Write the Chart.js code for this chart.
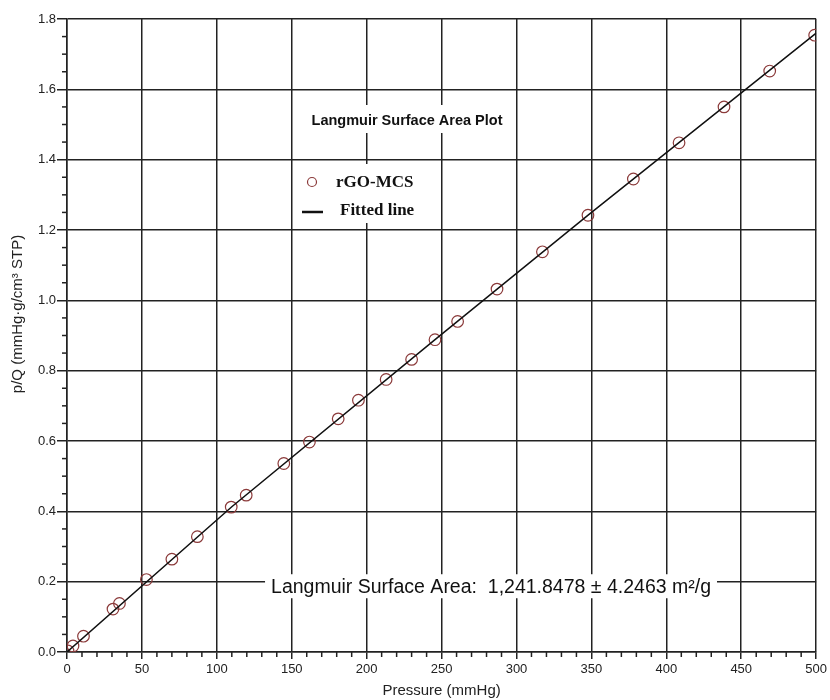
<!DOCTYPE html>
<html>
<head>
<meta charset="utf-8">
<script src="https://cdn.jsdelivr.net/npm/chart.js@4/dist/chart.umd.min.js"></script>
<style>
  html, body { margin: 0; padding: 0; background: #fff; }
  #wrap { width: 830px; height: 700px; }
</style>
</head>
<body>
<div id="wrap"><canvas id="chart"></canvas></div>
<script>
/*===== DATA =====*/

let pressure = [0.7, 4, 11, 30.7, 35, 53, 70, 87, 109.6, 119.6, 144.7, 161.8, 181, 194.5, 213, 230, 245.6, 260.7, 287, 317.3, 347.7, 378, 408.5, 438.5, 469, 499];
let pOverQ = [0.003, 0.017, 0.045, 0.122, 0.138, 0.206, 0.264, 0.328, 0.412, 0.446, 0.536, 0.597, 0.663, 0.716, 0.775, 0.832, 0.888, 0.94, 1.032, 1.138, 1.242, 1.345, 1.448, 1.55, 1.652, 1.754];
let fitX = [0, 110, 245, 348, 500];
let fitY = [0.0, 0.413, 0.886, 1.243, 1.76];
let xTicks = [0, 50, 100, 150, 200, 250, 300, 350, 400, 450, 500];
let yTicks = [0.0, 0.2, 0.4, 0.6, 0.8, 1.0, 1.2, 1.4, 1.6, 1.8];
let seriesName = "rGO-MCS";
let fitName = "Fitted line";
let plotTitle = "Langmuir Surface Area Plot";
let resultText = "Langmuir Surface Area:  1,241.8478 \u00b1 4.2463 m\u00b2/g";
let yTitle = "p/Q (mmHg\u00b7g/cm\u00b3 STP)";
let xTitle = "Pressure (mmHg)";

const SANS = "'Liberation Sans', Arial, sans-serif";
const SERIF = "'Liberation Serif', 'Times New Roman', serif";

/*===== PLUGIN =====*/

var extras = {
    id: "extras",
    beforeDatasetsDraw: function(chart) {
        var ctx = chart.ctx;
        var xs = chart.scales.x;
        var ys = chart.scales.y;
        var area = chart.chartArea;
        ctx.save();

        // minor ticks
        ctx.strokeStyle = "#222";
        ctx.lineWidth = 1.5;
        for (var v = 0; v <= 500; v += 10) {
            if (v % 50 === 0) continue;
            var px = xs.getPixelForValue(v);
            ctx.beginPath();
            ctx.moveTo(px, area.bottom);
            ctx.lineTo(px, area.bottom + 5);
            ctx.stroke();
        }
        for (var i = 0; i <= 36; i++) {
            if (i % 4 === 0) continue;
            var py = ys.getPixelForValue(i * 0.05);
            ctx.beginPath();
            ctx.moveTo(area.left - 5, py);
            ctx.lineTo(area.left, py);
            ctx.stroke();
        }

        // title box
        ctx.fillStyle = "#fff";
        ctx.fillRect(300, 105, 215, 28);
        ctx.fillStyle = "#111";
        ctx.font = "bold 14.5px " + SANS;
        ctx.textAlign = "center";
        ctx.textBaseline = "middle";
        ctx.fillText(plotTitle, 407, 121);

        // legend box
        ctx.fillStyle = "#fff";
        ctx.fillRect(297, 164, 140, 59);
        ctx.strokeStyle = "#8b3a3a";
        ctx.lineWidth = 1.2;
        ctx.beginPath();
        ctx.arc(312, 182, 4.5, 0, Math.PI * 2);
        ctx.stroke();
        ctx.strokeStyle = "#111";
        ctx.lineWidth = 2.5;
        ctx.beginPath();
        ctx.moveTo(302, 212);
        ctx.lineTo(323, 212);
        ctx.stroke();
        ctx.fillStyle = "#111";
        ctx.textAlign = "left";
        ctx.font = "bold 17px " + SERIF;
        ctx.fillText(seriesName, 336, 183);
        ctx.fillText(fitName, 340, 211);

        // result text
        ctx.font = "19.5px " + SANS;
        var w = ctx.measureText(resultText).width;
        var cx = xs.getPixelForValue(283);
        var cy = ys.getPixelForValue(0.187);
        ctx.fillStyle = "#fff";
        ctx.fillRect(cx - w / 2 - 6, cy - 12, w + 12, 24);
        ctx.fillStyle = "#111";
        ctx.textAlign = "center";
        ctx.fillText(resultText, cx, cy + 1);

        ctx.restore();
    },
    afterDraw: function(chart) {
        var ctx = chart.ctx;
        ctx.save();
        ctx.fillStyle = "#222";
        ctx.font = "15px " + SANS;
        ctx.textAlign = "center";
        ctx.textBaseline = "middle";
        ctx.translate(18, 314);
        ctx.rotate(-Math.PI / 2);
        ctx.fillText(yTitle, 0, 0);
        ctx.restore();
    }
};

/*===== CHART =====*/

let scatterPoints = pressure.map(function(p, i) { return { x: p, y: pOverQ[i] }; });
let fitPoints = fitX.map(function(p, i) { return { x: p, y: fitY[i] }; });

new Chart("chart", {
    type: "scatter",
    data: {
        datasets: [{
            label: fitName,
            type: "line",
            data: fitPoints,
            borderColor: "#111",
            borderWidth: 1.5,
            pointRadius: 0,
            tension: 0,
            fill: false
        }, {
            label: seriesName,
            data: scatterPoints,
            pointStyle: "circle",
            pointRadius: 5.8,
            pointBorderWidth: 1.2,
            borderColor: "#8b3a3a",
            backgroundColor: "rgba(0,0,0,0)"
        }]
    },
    options: {
        responsive: true,
        maintainAspectRatio: false,
        animation: false,
        layout: { padding: { top: 19, right: 13, left: 0, bottom: 0 } },
        plugins: {
            legend: { display: false },
            tooltip: { enabled: false }
        },
        scales: {
            x: {
                type: "linear",
                min: 0,
                max: 500,
                afterBuildTicks: function(scale) { scale.ticks = xTicks.map(function(v) { return { value: v }; }); },
                afterFit: function(scale) { scale.height = 48; },
                ticks: {
                    color: "#222",
                    font: { family: SANS, size: 13 },
                    padding: 3,
                    maxRotation: 0
                },
                grid: { color: "#222", lineWidth: 1.5, tickLength: 7 },
                border: { color: "#222", width: 1.5 },
                title: {
                    display: true,
                    text: xTitle,
                    color: "#222",
                    font: { family: SANS, size: 15 },
                    padding: { top: 0, bottom: 0 }
                }
            },
            y: {
                type: "linear",
                min: 0,
                max: 1.8,
                afterBuildTicks: function(scale) { scale.ticks = yTicks.map(function(v) { return { value: v }; }); },
                afterFit: function(scale) { scale.width = 67; },
                ticks: {
                    color: "#222",
                    font: { family: SANS, size: 13 },
                    padding: 1,
                    callback: function(v) { return v.toFixed(1); }
                },
                grid: { color: "#222", lineWidth: 1.5, tickLength: 10 },
                border: { color: "#222", width: 1.5 }
            }
        }
    },
    plugins: [extras]
});
</script>
</body>
</html>
